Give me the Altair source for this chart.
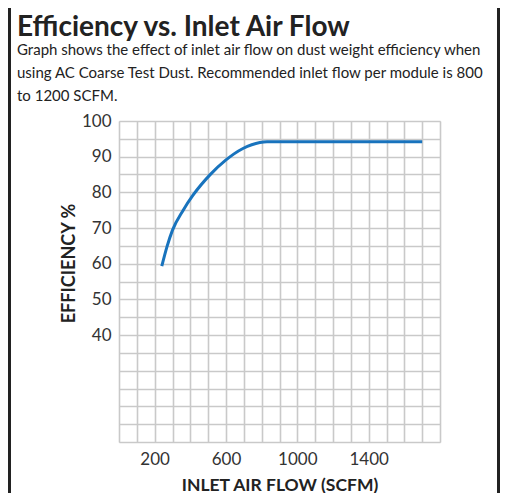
import altair as alt
import pandas as pd

# Data
flow_scfm = [240, 270, 300, 360, 415, 510, 600, 695, 790, 830, 1700]
efficiency_pct = [59.3, 64.9, 69.4, 75.0, 79.2, 84.9, 89.1, 92.3, 94.0, 94.2, 94.2]

x_grid = list(range(0, 1801, 100))
x_labels = [200, 600, 1000, 1400]
y_grid = list(range(10, 101, 5))
y_labels = [40, 50, 60, 70, 80, 90, 100]

title_text = "Efficiency vs. Inlet Air Flow"
subtitle_lines = [
    "Graph shows the effect of inlet air flow on dust weight efficiency when",
    "using AC Coarse Test Dust. Recommended inlet flow per module is 800",
    "to 1200 SCFM.",
]
x_title = "INLET AIR FLOW (SCFM)"
y_title = "EFFICIENCY %"

df = pd.DataFrame({"flow": flow_scfm, "eff": efficiency_pct})

FONT = "Lato"
GRID = "#c9c9c9"
TXT = "#333333"

x_expr = "indexof(%s, datum.value) >= 0 ? datum.label : ''" % str(x_labels)
y_expr = "indexof(%s, datum.value) >= 0 ? datum.label : ''" % str(y_labels)

line = alt.Chart(df).mark_line(
    color="#1873bd", strokeWidth=3, interpolate="monotone"
).encode(
    x=alt.X(
        "flow:Q",
        scale=alt.Scale(domain=[0, 1800], nice=False, zero=False),
        axis=alt.Axis(
            values=x_grid, format="d", labelExpr=x_expr, labelOverlap=False,
            grid=True, gridColor=GRID, gridWidth=1.6, ticks=False, domain=False,
            labelFont=FONT, labelFontSize=17, labelColor=TXT, labelPadding=9,
            title=x_title, titleFont=FONT, titleFontSize=17.5, titleFontWeight="bold",
            titleColor="#222222", titlePadding=9,
        ),
    ),
    y=alt.Y(
        "eff:Q",
        scale=alt.Scale(domain=[10, 100], nice=False, zero=False),
        axis=alt.Axis(
            values=y_grid, format="d", labelExpr=y_expr, labelOverlap=False,
            grid=True, gridColor=GRID, gridWidth=1.6, ticks=False, domain=False,
            labelFont=FONT, labelFontSize=17, labelColor=TXT, labelPadding=8,
            title=y_title, titleFont=FONT, titleFontSize=18, titleFontWeight="bold",
            titleColor="#222222", titleX=-50, titleY=142, titleAngle=-90,
            titleAlign="center", titleBaseline="middle",
        ),
    ),
)

frame_df = pd.DataFrame({"k": [0]})
frame_left = alt.Chart(frame_df).mark_rule(color="#222222", strokeWidth=3).encode(
    x=alt.value(-109.5), y=alt.value(-113), y2=alt.value(372)
)
frame_right = alt.Chart(frame_df).mark_rule(color="#222222", strokeWidth=3).encode(
    x=alt.value(379.5), y=alt.value(-113), y2=alt.value(372)
)

chart = alt.layer(line, frame_left, frame_right).properties(
    width=321,
    height=321,
    title=alt.TitleParams(
        text=title_text,
        subtitle=subtitle_lines,
        anchor="start",
        dx=9,
        offset=-97,
        font=FONT,
        fontSize=28,
        fontWeight="bold",
        color="#222222",
        subtitleFont=FONT,
        subtitleFontSize=15,
        subtitleColor="#222222",
        subtitleLineHeight=23,
        subtitlePadding=1,
    ),
    autosize=alt.AutoSizeParams(type="none"),
    padding={"left": 111, "top": 113, "right": 60, "bottom": 51},
).configure_view(stroke=None).configure(background="white")

chart.save("out.html", embed_options={"renderer": "svg", "actions": False})
